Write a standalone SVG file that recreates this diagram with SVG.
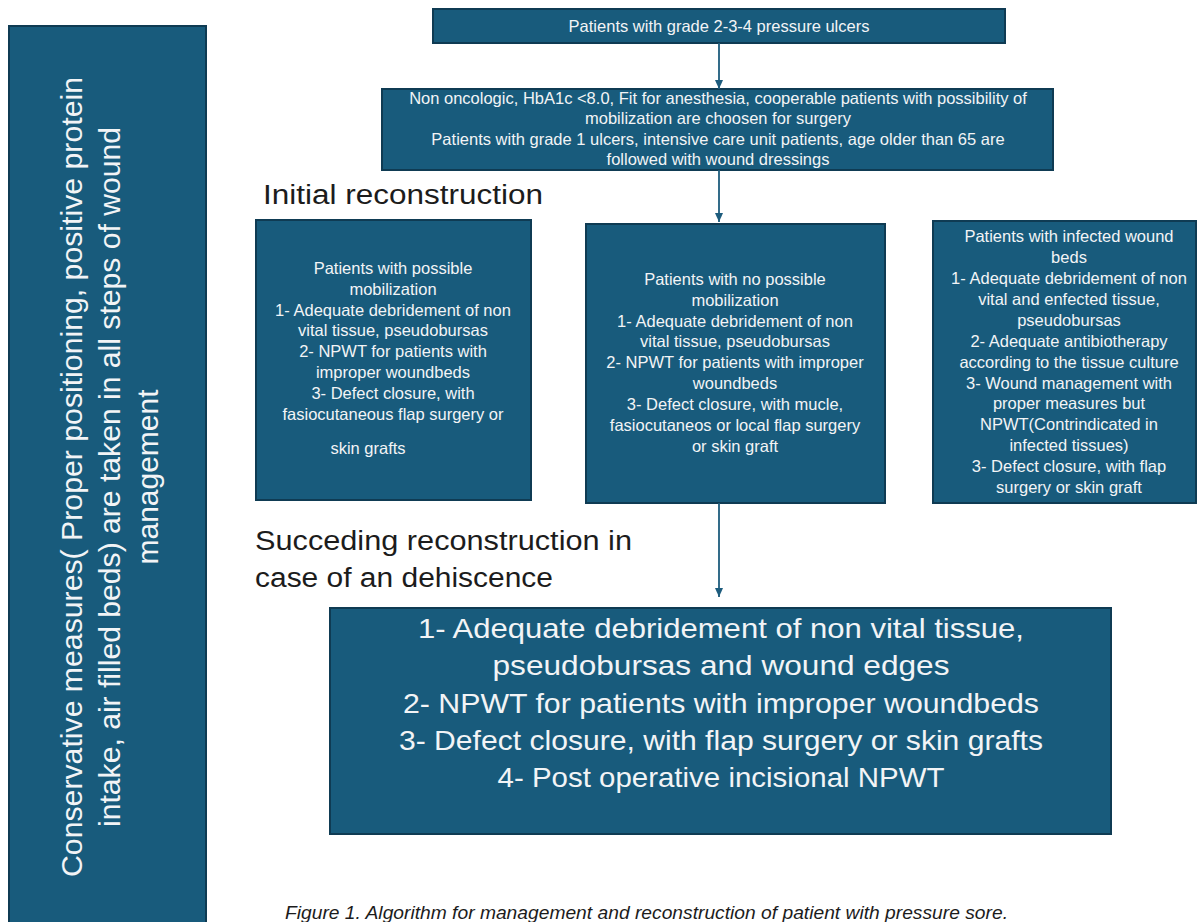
<svg xmlns="http://www.w3.org/2000/svg" width="1198" height="922" viewBox="0 0 1198 922">
<defs>
<style>
.box{fill:#185b7c;stroke:#0f3b53;stroke-width:2}
.t{font-family:"Liberation Sans",Arial,sans-serif;fill:#f2f4f6;text-anchor:middle;font-size:16.5px}
.big{font-family:"Liberation Sans",Arial,sans-serif;fill:#f2f4f6;text-anchor:middle;font-size:28px}
.side{font-family:"Liberation Sans",Arial,sans-serif;fill:#f2f4f6;text-anchor:middle;font-size:30px}
.head{font-family:"Liberation Sans",Arial,sans-serif;fill:#1c1c1c;font-size:27px}
.cap{font-family:"Liberation Sans",Arial,sans-serif;fill:#1c1c1c;font-size:18px;font-style:italic}
.conn{stroke:#1d5c7d;stroke-width:1.8;fill:none}
</style>
<marker id="ah" markerWidth="10" markerHeight="10" refX="9" refY="5" orient="auto" markerUnits="userSpaceOnUse">
<path d="M0,1 L9,5 L0,9 Z" fill="#1d5c7d"/>
</marker>
</defs>
<rect width="1198" height="922" fill="#ffffff"/>

<g id="side">
<rect class="box" x="9" y="26" width="197" height="900"/>
<g transform="rotate(-90)">
<text class="side" x="-477" y="82" textLength="800" lengthAdjust="spacingAndGlyphs">Conservative measures( Proper positioning, positive protein</text>
<text class="side" x="-477" y="120" textLength="700" lengthAdjust="spacingAndGlyphs">intake, air filled beds) are taken in all steps of wound</text>
<text class="side" x="-477" y="158">management</text>
</g>
</g>

<g id="start">
<rect class="box" x="433" y="9" width="572" height="34"/>
<text class="t" x="719" y="32">Patients with grade 2-3-4 pressure ulcers</text>
</g>

<g id="selection">
<rect class="box" x="382" y="89" width="671" height="81"/>
<text class="t" x="718" y="104">Non oncologic, HbA1c &lt;8.0, Fit for anesthesia, cooperable patients with possibility of</text>
<text class="t" x="718" y="124">mobilization are choosen for surgery</text>
<text class="t" x="718" y="145">Patients with grade 1 ulcers, intensive care unit patients, age older than 65 are</text>
<text class="t" x="718" y="165">followed with wound dressings</text>
</g>

<g id="label-initial">
<text class="head" x="263" y="204" textLength="280" lengthAdjust="spacingAndGlyphs">Initial reconstruction</text>
</g>

<g id="mobile">
<rect class="box" x="256" y="220" width="275" height="280"/>
<text class="t" x="393" y="274">Patients with possible</text>
<text class="t" x="393" y="295">mobilization</text>
<text class="t" x="393" y="316">1- Adequate debridement of non</text>
<text class="t" x="393" y="336">vital tissue, pseudobursas</text>
<text class="t" x="393" y="357">2- NPWT for patients with</text>
<text class="t" x="393" y="378">improper woundbeds</text>
<text class="t" x="393" y="399">3- Defect closure, with</text>
<text class="t" x="393" y="420">fasiocutaneous flap surgery or</text>
<text class="t" x="368" y="454">skin grafts</text>
</g>

<g id="immobile">
<rect class="box" x="586" y="224" width="299" height="279"/>
<text class="t" x="735" y="285">Patients with no possible</text>
<text class="t" x="735" y="306">mobilization</text>
<text class="t" x="735" y="327">1- Adequate debridement of non</text>
<text class="t" x="735" y="347">vital tissue, pseudobursas</text>
<text class="t" x="735" y="368">2- NPWT for patients with improper</text>
<text class="t" x="735" y="389">woundbeds</text>
<text class="t" x="735" y="410">3- Defect closure, with mucle,</text>
<text class="t" x="735" y="431">fasiocutaneos or local flap surgery</text>
<text class="t" x="735" y="452">or skin graft</text>
</g>

<g id="infected">
<rect class="box" x="933" y="221" width="263" height="282"/>
<text class="t" x="1069" y="242">Patients with infected wound</text>
<text class="t" x="1069" y="263">beds</text>
<text class="t" x="1069" y="284">1- Adequate debridement of non</text>
<text class="t" x="1069" y="305">vital and enfected tissue,</text>
<text class="t" x="1069" y="326">pseudobursas</text>
<text class="t" x="1069" y="347">2- Adequate antibiotherapy</text>
<text class="t" x="1069" y="368">according to the tissue culture</text>
<text class="t" x="1069" y="389">3- Wound management with</text>
<text class="t" x="1069" y="409">proper measures but</text>
<text class="t" x="1069" y="430">NPWT(Contrindicated in</text>
<text class="t" x="1069" y="451">infected tissues)</text>
<text class="t" x="1069" y="472">3- Defect closure, with flap</text>
<text class="t" x="1069" y="493">surgery or skin graft</text>
</g>

<g id="label-succeeding">
<text class="head" x="255" y="550" textLength="377" lengthAdjust="spacingAndGlyphs">Succeding reconstruction in</text>
<text class="head" x="255" y="587" textLength="298" lengthAdjust="spacingAndGlyphs">case of an dehiscence</text>
</g>

<g id="dehiscence">
<rect class="box" x="330" y="608" width="781" height="226"/>
<text class="big" x="721" y="638" textLength="606" lengthAdjust="spacingAndGlyphs">1- Adequate debridement of non vital tissue,</text>
<text class="big" x="721" y="675" textLength="457" lengthAdjust="spacingAndGlyphs">pseudobursas and wound edges</text>
<text class="big" x="721" y="713" textLength="636" lengthAdjust="spacingAndGlyphs">2- NPWT for patients with improper woundbeds</text>
<text class="big" x="721" y="750" textLength="644" lengthAdjust="spacingAndGlyphs">3- Defect closure, with flap surgery or skin grafts</text>
<text class="big" x="721" y="787" textLength="447" lengthAdjust="spacingAndGlyphs">4- Post operative incisional NPWT</text>
</g>

<g id="connectors">
<line class="conn" x1="719" y1="43" x2="719" y2="89" marker-end="url(#ah)"/>
<line class="conn" x1="719" y1="170" x2="719" y2="222" marker-end="url(#ah)"/>
<line class="conn" x1="719" y1="503" x2="719" y2="597" marker-end="url(#ah)"/>
</g>

<g id="caption">
<text class="cap" x="285" y="919" textLength="723" lengthAdjust="spacingAndGlyphs">Figure 1. Algorithm for management and reconstruction of patient with pressure sore.</text>
</g>
</svg>
